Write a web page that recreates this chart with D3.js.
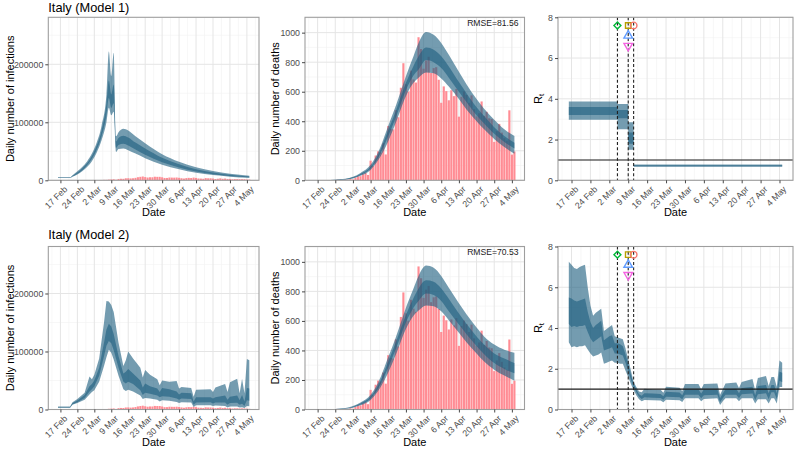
<!DOCTYPE html>
<html><head><meta charset="utf-8">
<script src="https://cdn.jsdelivr.net/npm/d3@7"></script>
<style>body{margin:0;background:#fff}svg{display:block}</style>
</head><body><svg id="c" width="794" height="450"></svg>
<script>
const parse = d3.utcParse("%Y-%m-%d");

// ---------------- DATA ----------------
const obsFirst = "2020-02-16", obsLast = "2020-05-05";
// Daily reported deaths (Italy), Feb 16 .. May 5
const deaths = [0,0,0,0,0,0,1,1,1,4,3,2,5,4,
 8,5,18,27,28,41,49,36,133,97,168,196,189,250,175,368,349,345,475,427,627,793,651,601,743,683,662,969,889,756,812,
 837,727,760,766,681,525,636,604,542,610,570,619,431,566,602,578,525,575,482,433,454,534,437,464,420,415,260,333,382,323,
 285,269,474,174,195];
// Daily reported cases (Italy), Feb 16 .. May 5
const cases = [0,0,0,0,0,0,17,59,71,77,93,131,197,238,
 240,566,342,466,587,769,778,1247,1492,1797,977,2313,2651,2547,3497,3590,3233,3526,4207,5322,5986,6557,5560,4789,5249,5210,6153,5959,5974,5217,4050,
 4053,4782,4668,4585,4805,4316,3599,3039,3836,4204,3951,4694,4092,3153,2972,2667,3786,3493,3491,3047,2256,2729,3370,2646,3021,2357,2324,1739,2091,2086,
 1872,1965,1900,1389,1221];

// Model 1 – infections
const m1InfDates = ["2020-02-16","2020-02-21","2020-02-22","2020-02-24","2020-02-26","2020-02-28","2020-03-01","2020-03-03","2020-03-05","2020-03-07","2020-03-08","2020-03-09","2020-03-10","2020-03-11","2020-03-12","2020-03-14","2020-03-16","2020-03-19","2020-03-23","2020-03-30","2020-04-06","2020-04-13","2020-04-20","2020-04-27","2020-05-05"];
const m1InfLo95 = [3900,3900,6000,9800,15500,23000,33000,48000,69000,100000,125000,112000,118000,49000,54000,55000,52000,46000,38000,27000,19000,13000,9000,6300,4300];
const m1InfLo50 = [4300,4300,6800,11500,17500,26000,37000,53000,76000,112000,142000,125000,133000,56000,61000,63000,60000,53000,44000,31000,22000,15000,10500,7400,5000];
const m1InfHi50 = [4700,4700,7800,13500,20500,29500,42000,60000,86000,132000,172000,148000,165000,67000,73000,77000,74000,65000,55000,39000,27500,19000,13500,9500,6600];
const m1InfHi95 = [5100,5100,8800,15500,23000,32500,46000,65000,94000,148000,222000,180000,220000,76000,83000,89000,86000,76000,64000,45000,32000,22500,16000,11500,8000];

// Model 1 – deaths
const m1DeaDates = ["2020-02-16","2020-02-20","2020-02-24","2020-02-28","2020-03-02","2020-03-05","2020-03-09","2020-03-12","2020-03-16","2020-03-19","2020-03-23","2020-03-26","2020-03-28","2020-03-31","2020-04-03","2020-04-06","2020-04-09","2020-04-13","2020-04-16","2020-04-20","2020-04-23","2020-04-27","2020-05-01","2020-05-05"];
const m1DeaLo95 = [0,0,1,5,13,30,70,135,265,390,570,660,695,730,725,690,635,550,480,400,345,280,225,180];
const m1DeaLo50 = [0,0,2,6,16,36,80,152,300,425,610,710,750,815,800,760,695,600,530,440,385,315,260,215];
const m1DeaHi50 = [0,0,3,8,20,43,92,172,340,470,660,775,840,900,885,840,770,665,590,495,435,360,300,255];
const m1DeaHi95 = [0,1,4,10,24,50,105,190,370,505,705,840,930,1005,985,930,850,735,650,550,485,410,345,300];
const rmse1 = "RMSE=81.56";

// Model 1 – Rt (piecewise constant)
const m1RtDates = ["2020-02-16","2020-03-05","2020-03-09","2020-03-11","2020-05-05"];
const m1RtLo95 = [2.97,2.5,1.5,0.66,0.66];
const m1RtLo50 = [3.2,3.05,1.8,0.69,0.69];
const m1RtHi50 = [3.6,3.45,2.35,0.74,0.74];
const m1RtHi95 = [3.87,3.75,2.85,0.78,0.78];

// Model 2 – infections
const m2InfDates = ["2020-02-16","2020-02-21","2020-02-22","2020-02-24","2020-02-27","2020-02-29","2020-03-01","2020-03-02","2020-03-04","2020-03-06","2020-03-07","2020-03-08","2020-03-09","2020-03-10","2020-03-12","2020-03-14","2020-03-15","2020-03-16","2020-03-18","2020-03-21","2020-03-22","2020-03-23","2020-03-25","2020-03-28","2020-03-29","2020-03-30","2020-04-02","2020-04-05","2020-04-06","2020-04-07","2020-04-11","2020-04-12","2020-04-13","2020-04-19","2020-04-20","2020-04-21","2020-04-25","2020-04-26","2020-04-27","2020-04-30","2020-05-01","2020-05-02","2020-05-03","2020-05-04","2020-05-05"];
const m2InfLo95 = [3000,3000,8000,11000,17000,26000,30000,33000,48000,75000,90000,103000,98000,86000,58000,35000,32000,34000,31000,24000,18000,20000,19000,17000,14000,16000,15000,13000,11000,12500,12000,4500,7500,7500,6000,7000,6000,3500,5000,5000,3500,4000,2500,6000,5500];
const m2InfLo50 = [3600,3600,9000,12500,20000,31000,35000,40000,58000,92000,110000,118000,114000,102000,72000,48000,45000,48000,44000,33000,25000,29000,27000,24000,21000,23000,22000,19000,17000,19000,18000,8000,12000,12500,10500,12000,12000,8000,11000,11500,8000,10000,6000,16000,15000];
const m2InfHi50 = [4400,4400,11000,15500,25000,40000,44000,50000,72000,115000,138000,148000,143000,130000,92000,62000,65000,70000,62000,50000,38000,45000,40000,36000,30000,37000,35000,31000,26000,29000,28000,14000,21000,21000,19000,21000,24000,17000,22000,24000,16000,25000,14000,37000,36000];
const m2InfHi95 = [5000,5000,12500,18000,29000,57000,52000,60000,88000,150000,187000,186000,180000,168000,115000,75000,85000,100000,88000,72000,55000,68000,60000,52000,42000,50000,48000,49000,36000,39000,37000,22000,34000,35000,30000,38000,44000,30000,47000,53000,28000,53000,28000,87000,85000];

// Model 2 – deaths
const m2DeaDates = m1DeaDates;
const m2DeaLo95 = [0,0,1,5,12,28,65,125,250,370,545,635,670,705,700,665,605,520,455,380,325,270,230,195];
const m2DeaLo50 = [0,0,2,6,15,34,75,142,285,410,590,690,735,785,775,735,665,575,510,430,375,315,275,245];
const m2DeaHi50 = [0,0,3,8,19,41,88,162,325,455,640,755,820,875,865,820,750,650,580,495,440,380,345,315];
const m2DeaHi95 = [0,1,4,10,23,48,100,182,355,490,690,820,905,975,960,905,825,720,645,555,495,440,405,385];
const rmse2 = "RMSE=70.53";

// Model 2 – Rt
const m2RtDates = ["2020-02-16","2020-02-17","2020-02-18","2020-02-19","2020-02-20","2020-02-21","2020-02-22","2020-02-23","2020-02-24","2020-02-25","2020-02-26","2020-02-27","2020-02-28","2020-02-29","2020-03-01","2020-03-02","2020-03-03","2020-03-04","2020-03-05","2020-03-06","2020-03-07","2020-03-08","2020-03-09","2020-03-10","2020-03-11","2020-03-12","2020-03-13","2020-03-14","2020-03-15","2020-03-18","2020-03-21","2020-03-22","2020-03-23","2020-03-28","2020-03-29","2020-03-30","2020-04-04","2020-04-05","2020-04-06","2020-04-11","2020-04-12","2020-04-13","2020-04-14","2020-04-18","2020-04-19","2020-04-20","2020-04-24","2020-04-25","2020-04-26","2020-04-29","2020-04-30","2020-05-01","2020-05-02","2020-05-03","2020-05-04","2020-05-05"];
const m2RtLo95 = [3.3,3.05,3.1,3.05,3.1,3.1,3.15,2.95,2.75,2.6,2.65,2.7,2.8,2.25,2.3,2.35,2.4,2.3,2.3,2.25,2.25,1.9,1.6,1.25,0.95,0.7,0.5,0.4,0.47,0.45,0.44,0.35,0.48,0.45,0.37,0.55,0.55,0.4,0.52,0.55,0.22,0.4,0.55,0.55,0.4,0.55,0.55,0.3,0.5,0.5,0.3,0.55,0.55,0.3,1.1,1.1];
const m2RtLo50 = [4.2,4.05,4.1,4.05,4.1,4.1,4.15,3.8,3.5,3.3,3.4,3.5,3.6,2.9,2.95,3.0,3.05,2.75,2.75,2.7,2.65,2.3,1.9,1.45,1.1,0.85,0.62,0.52,0.6,0.58,0.57,0.48,0.63,0.6,0.5,0.72,0.72,0.55,0.7,0.72,0.35,0.55,0.72,0.73,0.55,0.75,0.78,0.45,0.75,0.8,0.5,0.85,0.85,0.5,1.4,1.35];
const m2RtHi50 = [5.5,5.45,5.35,5.3,5.35,5.4,5.45,4.8,4.3,4.0,4.15,4.25,4.35,3.4,3.5,3.6,3.65,3.25,3.25,3.2,3.1,2.7,2.2,1.7,1.25,0.98,0.75,0.68,0.8,0.78,0.76,0.65,0.87,0.84,0.7,0.98,0.98,0.78,0.98,1.0,0.55,0.78,1.0,1.02,0.8,1.05,1.12,0.7,1.15,1.2,0.8,1.2,1.2,0.8,1.85,1.8];
const m2RtHi95 = [7.25,7.1,6.95,6.9,7.0,7.05,7.1,6.0,5.1,4.6,4.75,4.85,4.95,3.85,3.95,4.05,4.15,3.6,3.55,3.5,3.45,3.0,2.45,1.9,1.35,1.1,0.88,0.85,1.02,0.98,0.97,0.82,1.12,1.07,0.9,1.25,1.25,1.0,1.25,1.28,0.72,1.0,1.28,1.32,1.05,1.35,1.5,0.95,1.55,1.65,1.15,1.6,1.6,1.1,2.4,2.3];

// Interventions
const interventionDates = ["2020-03-05","2020-03-09","2020-03-11"];
const markerDates = ["2020-03-05","2020-03-09","2020-03-11","2020-03-09","2020-03-09"];
const markerValues = [7.6,7.6,7.6,7.1,6.6];

// Axis ticks
const xTickDates = ["2020-02-17","2020-02-24","2020-03-02","2020-03-09","2020-03-16","2020-03-23","2020-03-30","2020-04-06","2020-04-13","2020-04-20","2020-04-27","2020-05-04"];
const infTicks = [0,100000,200000], infMinor = [50000,150000,250000];
const deaTicks = [0,200,400,600,800,1000], deaMinor = [100,300,500,700,900,1100];
const rtTicks = [0,2,4,6,8], rtMinor = [1,3,5,7];

// ---------------- STYLE / LAYOUT ----------------
const FONT = "'Liberation Sans', Arial, Helvetica, sans-serif";
const BLUE = "#1F5F80", BAND_OP = 0.62, PINK = "#FF8C94";
const markerStyle = [
  {sym: d3.symbolSquare, rot: 45, col: "#00BA38", size: 24},
  {sym: d3.symbolSquare, rot: 0, col: "#B79F00", size: 30},
  {sym: d3.symbolCircle, rot: 0, col: "#F8766D", size: 34},
  {sym: d3.symbolTriangle, rot: 0, col: "#619CFF", size: 32},
  {sym: d3.symbolTriangle, rot: 180, col: "#F564E3", size: 32}
];
const svg = d3.select("#c").style("font-family", FONT);
const xDomain = [parse("2020-02-12"), parse("2020-05-09")];
const cols = [[48.3, 259], [305, 524.5], [558, 793]];
const rows = [[17.3, 180.3], [246.5, 409.5]];
const obsDates = d3.utcDay.range(parse(obsFirst), d3.utcDay.offset(parse(obsLast), 1));

let clipId = 0;
function panel(col, row, cfg) {
  const [x0, x1] = cols[col], [y0, y1] = rows[row];
  const x = d3.scaleUtc().domain(xDomain).range([x0, x1]);
  const y = d3.scaleLinear().domain(cfg.yDomain).range([y1, y0]);
  const g = svg.append("g");
  const ticks = xTickDates.map(parse);
  const minorX = ticks.map(t => d3.utcHour.offset(t, -84)).concat([d3.utcHour.offset(ticks[ticks.length-1], 84)]);
  // grid
  const grid = g.append("g");
  minorX.forEach(d => grid.append("line").attr("x1", x(d)).attr("x2", x(d)).attr("y1", y0).attr("y2", y1).attr("stroke", "#F2F2F2").attr("stroke-width", 0.6));
  cfg.minor.forEach(v => grid.append("line").attr("x1", x0).attr("x2", x1).attr("y1", y(v)).attr("y2", y(v)).attr("stroke", "#F2F2F2").attr("stroke-width", 0.6));
  ticks.forEach(d => grid.append("line").attr("x1", x(d)).attr("x2", x(d)).attr("y1", y0).attr("y2", y1).attr("stroke", "#E5E5E5").attr("stroke-width", 1));
  cfg.ticks.forEach(v => grid.append("line").attr("x1", x0).attr("x2", x1).attr("y1", y(v)).attr("y2", y(v)).attr("stroke", "#E5E5E5").attr("stroke-width", 1));
  // clip
  const id = "clp" + (clipId++);
  svg.append("clipPath").attr("id", id).append("rect").attr("x", x0).attr("y", y0).attr("width", x1 - x0).attr("height", y1 - y0);
  const c = g.append("g").attr("clip-path", `url(#${id})`);
  cfg.draw(c, x, y);
  // frame
  g.append("rect").attr("x", x0).attr("y", y0).attr("width", x1 - x0).attr("height", y1 - y0)
    .attr("fill", "none").attr("stroke", "#9E9E9E").attr("stroke-width", 1.1);
  // x axis
  const ax = g.append("g").attr("transform", `translate(0,${y1})`)
    .call(d3.axisBottom(x).tickValues(ticks).tickFormat(d3.utcFormat("%-d %b")).tickSize(3).tickSizeOuter(0));
  ax.select(".domain").remove();
  ax.selectAll(".tick line").attr("stroke", "#333").attr("stroke-width", 0.9);
  ax.selectAll(".tick text").attr("x", 0).attr("y", 0).attr("dy", "0.72em").attr("text-anchor", "end")
    .attr("transform", "translate(2.5,5) rotate(-45)").attr("fill", "#4D4D4D").style("font-size", "8.8px").style("font-family", FONT);
  // y axis
  const ay = g.append("g").attr("transform", `translate(${x0},0)`)
    .call(d3.axisLeft(y).tickValues(cfg.ticks).tickFormat(d3.format("d")).tickSize(3).tickPadding(2));
  ay.select(".domain").remove();
  ay.selectAll(".tick line").attr("stroke", "#333").attr("stroke-width", 0.9);
  ay.selectAll(".tick text").attr("fill", "#4D4D4D").style("font-size", "8.8px").style("font-family", FONT);
  // titles
  g.append("text").attr("x", (x0 + x1) / 2).attr("y", y1 + 36).attr("text-anchor", "middle")
    .style("font-size", "11px").text("Date");
  const yt = g.append("text").attr("transform", `translate(${cfg.ytx},${(y0 + y1) / 2}) rotate(-90)`)
    .attr("text-anchor", "middle").style("font-size", "11px");
  if (cfg.rt) {
    yt.append("tspan").text("R");
    yt.append("tspan").attr("dy", "0.3em").style("font-size", "8px").text("t");
  } else yt.text(cfg.ylab);
  if (cfg.title) g.append("text").attr("x", x0).attr("y", cfg.titleY).style("font-size", "12.8px").text(cfg.title);
  if (cfg.rmse) g.append("text").attr("x", x1 - 6).attr("y", y0 + 8.5).attr("text-anchor", "end")
    .style("font-size", "8.6px").attr("fill", "#222").text(cfg.rmse);
}

function bars(c, x, y, vals) {
  const bw = (x(obsDates[1]) - x(obsDates[0])) * 0.85;
  c.append("g").selectAll("rect").data(obsDates).join("rect")
    .attr("x", d => x(d) - bw / 2).attr("width", bw)
    .attr("y", (d, i) => y(vals[i])).attr("height", (d, i) => y(0) - y(vals[i]))
    .attr("fill", PINK);
}
function ribbons(c, x, y, dates, lo95, lo50, hi50, hi95, curve) {
  const ds = dates.map(parse);
  const mk = (lo, hi) => d3.area().x((d, i) => x(ds[i])).y0((d, i) => y(lo[i])).y1((d, i) => y(hi[i])).curve(curve);
  c.append("path").datum(ds).attr("d", mk(lo95, hi95)).attr("fill", BLUE).attr("fill-opacity", BAND_OP);
  c.append("path").datum(ds).attr("d", mk(lo50, hi50)).attr("fill", BLUE).attr("fill-opacity", BAND_OP);
}
function rtExtras(c, x, y) {
  c.append("line").attr("x1", x.range()[0]).attr("x2", x.range()[1]).attr("y1", y(1)).attr("y2", y(1))
    .attr("stroke", "#1a1a1a").attr("stroke-width", 1.1);
  interventionDates.forEach(d => c.append("line").attr("x1", x(parse(d))).attr("x2", x(parse(d)))
    .attr("y1", y.range()[1]).attr("y2", y.range()[0]).attr("stroke", "#222").attr("stroke-width", 1.1)
    .attr("stroke-dasharray", "3,2.2"));
  markerDates.forEach((d, i) => {
    const s = markerStyle[i];
    c.append("path").attr("d", d3.symbol().type(s.sym).size(s.size)())
      .attr("transform", `translate(${x(parse(d))},${y(markerValues[i])}) rotate(${s.rot})`)
      .attr("fill", "none").attr("stroke", s.col).attr("stroke-width", 1.4);
  });
}

const rowsCfg = [
  {title: "Italy (Model 1)", titleY: 12.3, inf: [m1InfDates, m1InfLo95, m1InfLo50, m1InfHi50, m1InfHi95, d3.curveMonotoneX],
   dea: [m1DeaDates, m1DeaLo95, m1DeaLo50, m1DeaHi50, m1DeaHi95], rmse: rmse1,
   rt: [m1RtDates, m1RtLo95, m1RtLo50, m1RtHi50, m1RtHi95, d3.curveStepAfter]},
  {title: "Italy (Model 2)", titleY: 239, inf: [m2InfDates, m2InfLo95, m2InfLo50, m2InfHi50, m2InfHi95, d3.curveLinear],
   dea: [m2DeaDates, m2DeaLo95, m2DeaLo50, m2DeaHi50, m2DeaHi95], rmse: rmse2,
   rt: [m2RtDates, m2RtLo95, m2RtLo50, m2RtHi50, m2RtHi95, d3.curveLinear]}
];

rowsCfg.forEach((r, ri) => {
  panel(0, ri, {yDomain: [0, 281000], ticks: infTicks, minor: infMinor, ylab: "Daily number of infections", ytx: 14,
    title: r.title, titleY: r.titleY,
    draw: (c, x, y) => { bars(c, x, y, cases); ribbons(c, x, y, ...r.inf); }});
  panel(1, ri, {yDomain: [0, 1104], ticks: deaTicks, minor: deaMinor, ylab: "Daily number of deaths", ytx: 278.5, rmse: r.rmse,
    draw: (c, x, y) => { bars(c, x, y, deaths); ribbons(c, x, y, ...r.dea, d3.curveMonotoneX); }});
  panel(2, ri, {yDomain: [0, 8], ticks: rtTicks, minor: rtMinor, rt: true, ytx: 542,
    draw: (c, x, y) => { ribbons(c, x, y, ...r.rt); rtExtras(c, x, y); }});
});
</script></body></html>
